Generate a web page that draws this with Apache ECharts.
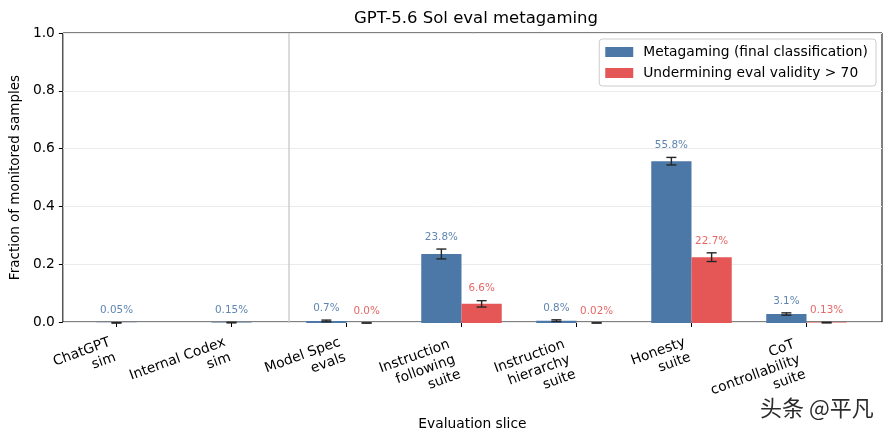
<!DOCTYPE html>
<html>
<head>
<meta charset="utf-8">
<script src="https://cdn.jsdelivr.net/npm/echarts@6/dist/echarts.min.js"></script>
<style>
  html, body { margin: 0; padding: 0; background: #fff; }
  #main { width: 892px; height: 436px; }
</style>
</head>
<body>
<div id="main"></div>
<script>
var categories = ['ChatGPT\nsim', 'Internal Codex\nsim', 'Model Spec\nevals', 'Instruction\nfollowing\nsuite',
	'Instruction\nhierarchy\nsuite', 'Honesty\nsuite', 'CoT\ncontrollability\nsuite'];
var metagaming = [0.0005, 0.0015, 0.007, 0.238, 0.008, 0.558, 0.031];
var metagamingErr = [0.0005, 0.001, 0.003, 0.017, 0.003, 0.013, 0.004];
var metagamingLabels = ['0.05%', '0.15%', '0.7%', '23.8%', '0.8%', '55.8%', '3.1%'];
var undermining = [null, null, 0.0, 0.066, 0.0002, 0.227, 0.0013];
var underminingErr = [null, null, 0, 0.011, 0.0003, 0.015, 0.001];
var underminingLabels = [null, null, '0.0%', '6.6%', '0.02%', '22.7%', '0.13%'];

var BLUE = '#4C78A8', RED = '#E45756';
var FONT = 'DejaVu Sans';

function toData(vals, errs) {
	var out = [];
	vals.forEach(function(v, i) {
		if (v !== null) out.push([i, v, errs[i]]);
	});
	return out;
}

// side: -1 left bar, +1 right bar; single bars sit on the tick
function makeRender(side, labels, color) {
	return function(params, api) {
		var idx = api.value(0), v = api.value(1), e = api.value(2);
		var paired = undermining[idx] !== null;
		var band = api.size([1, 0])[0];
		var bw = band * 0.35;
		var base = api.coord([idx, 0]);
		var cx = base[0] + (paired ? side * bw / 2 : 0);
		var top = api.coord([idx, v])[1];
		var hi = api.coord([idx, v + e])[1];
		var lo = api.coord([idx, Math.max(v - e, 0)])[1];
		var ec = '#262626';
		return {
			type: 'group',
			children: [{
				type: 'rect',
				shape: { x: cx - bw / 2, y: top, width: bw, height: base[1] - top },
				style: { fill: color }
			}, {
				type: 'line',
				shape: { x1: cx, y1: hi, x2: cx, y2: lo },
				style: { stroke: ec, lineWidth: 1.4 }
			}, {
				type: 'line',
				shape: { x1: cx - 5, y1: hi, x2: cx + 5, y2: hi },
				style: { stroke: ec, lineWidth: 1.4 }
			}, {
				type: 'line',
				shape: { x1: cx - 5, y1: lo, x2: cx + 5, y2: lo },
				style: { stroke: ec, lineWidth: 1.4 }
			}, {
				type: 'text',
				x: cx, y: hi - 12,
				style: {
					text: labels[idx], fill: color, opacity: 0.9,
					font: '10.4px "DejaVu Sans"', align: 'center', verticalAlign: 'middle'
				}
			}]
		};
	};
}

var chart = echarts.init(document.getElementById('main'));

var labelStyle = { fontFamily: FONT, fontSize: 13.8, lineHeight: 16, color: '#000' };

var option = {
	animation: false,
	backgroundColor: '#fff',
	textStyle: { fontFamily: FONT },
	title: {
		text: 'GPT-5.6 Sol eval metagaming',
		left: 471, top: 5, textAlign: 'center',
		textStyle: { fontFamily: FONT, fontSize: 16.5, fontWeight: 'normal', color: '#000' }
	},
	legend: {
		right: 16, top: 39, orient: 'vertical',
		padding: [6, 8, 6, 6],
		itemWidth: 28, itemHeight: 10, itemGap: 7,
		borderColor: '#cccccc', borderWidth: 1, borderRadius: 3,
		backgroundColor: 'rgba(255,255,255,0.8)',
		icon: 'rect',
		textStyle: { fontFamily: FONT, fontSize: 13.8, color: '#000', padding: [0, 0, 0, 5] },
		data: [
			{ name: 'Metagaming (final classification)', itemStyle: { color: BLUE } },
			{ name: 'Undermining eval validity > 70', itemStyle: { color: RED } }
		]
	},
	grid: [
		{ left: 61, right: 10, top: 33, bottom: 113, show: true, borderColor: '#000', borderWidth: 1 },
		{ left: 59, width: 805, top: 33, bottom: 113 }
	],
	xAxis: [{
		gridIndex: 0, type: 'value', min: 0, max: 1,
		name: 'Evaluation slice', nameLocation: 'middle', nameGap: 95,
		nameTextStyle: { fontFamily: FONT, fontSize: 13.8, color: '#000' },
		axisLine: { show: false }, axisTick: { show: false }, axisLabel: { show: false }, splitLine: { show: false }
	}, {
		gridIndex: 1, type: 'category', data: categories,
		axisLine: { show: false },
		axisTick: { show: true, alignWithLabel: true, length: 4, lineStyle: { color: '#000' } },
		axisLabel: {
			interval: 0, rotate: 20, align: 'right', verticalAlign: 'top', margin: 8,
			fontFamily: FONT, fontSize: 13.8, lineHeight: 16, color: '#000',
			// longer labels sit further left of their tick, as in the source
			formatter: function(v) {
				var lines = v.split('\n');
				var tag = lines.length > 2 ? 't3' : 't2';
				return lines.map(function(l) { return '{' + tag + '|' + l + '}'; }).join('\n');
			},
			rich: {
				t2: Object.assign({ padding: [0, 10, 0, 0] }, labelStyle),
				t3: Object.assign({ padding: [0, 16, 0, 0] }, labelStyle)
			}
		},
		splitLine: { show: false }
	}],
	yAxis: [{
		gridIndex: 0, type: 'value', min: 0, max: 1, interval: 0.2,
		name: 'Fraction of monitored samples', nameLocation: 'middle', nameGap: 40,
		nameTextStyle: { fontFamily: FONT, fontSize: 13.5, color: '#000' },
		axisLine: { show: false },
		axisTick: { show: true, length: 4, lineStyle: { color: '#000' } },
		axisLabel: {
			fontFamily: FONT, fontSize: 13.8, color: '#000', margin: 8,
			formatter: function(v) { return v.toFixed(1); }
		},
		splitLine: { show: true, lineStyle: { color: '#ebebeb', width: 1 } }
	}, {
		gridIndex: 1, type: 'value', min: 0, max: 1, show: false
	}],
	graphic: [{
		type: 'text', left: 759, top: 396,
		style: {
			text: '头条 @平凡', font: '22px "Noto Sans CJK SC"', fill: '#2b2b2b',
			stroke: '#fff', lineWidth: 2
		}
	}],
	series: [{
		// divider between the sim slices and the eval suites
		type: 'custom', xAxisIndex: 1, yAxisIndex: 1, silent: true, z: 1,
		data: [[1]],
		renderItem: function(params, api) {
			var c = api.coord([api.value(0), 0]);
			var x = c[0] + api.size([1, 0])[0] / 2;
			var cs = params.coordSys;
			return {
				type: 'line',
				shape: { x1: x, y1: cs.y, x2: x, y2: cs.y + cs.height },
				style: { stroke: '#c8c8c8', lineWidth: 1.3 }
			};
		}
	}, {
		name: 'Metagaming (final classification)',
		type: 'custom', xAxisIndex: 1, yAxisIndex: 1, z: 3,
		itemStyle: { color: BLUE },
		data: toData(metagaming, metagamingErr),
		renderItem: makeRender(-1, metagamingLabels, BLUE)
	}, {
		name: 'Undermining eval validity > 70',
		type: 'custom', xAxisIndex: 1, yAxisIndex: 1, z: 3,
		itemStyle: { color: RED },
		data: toData(undermining, underminingErr),
		renderItem: makeRender(1, underminingLabels, RED)
	}]
};

chart.setOption(option);
</script>
</body>
</html>
